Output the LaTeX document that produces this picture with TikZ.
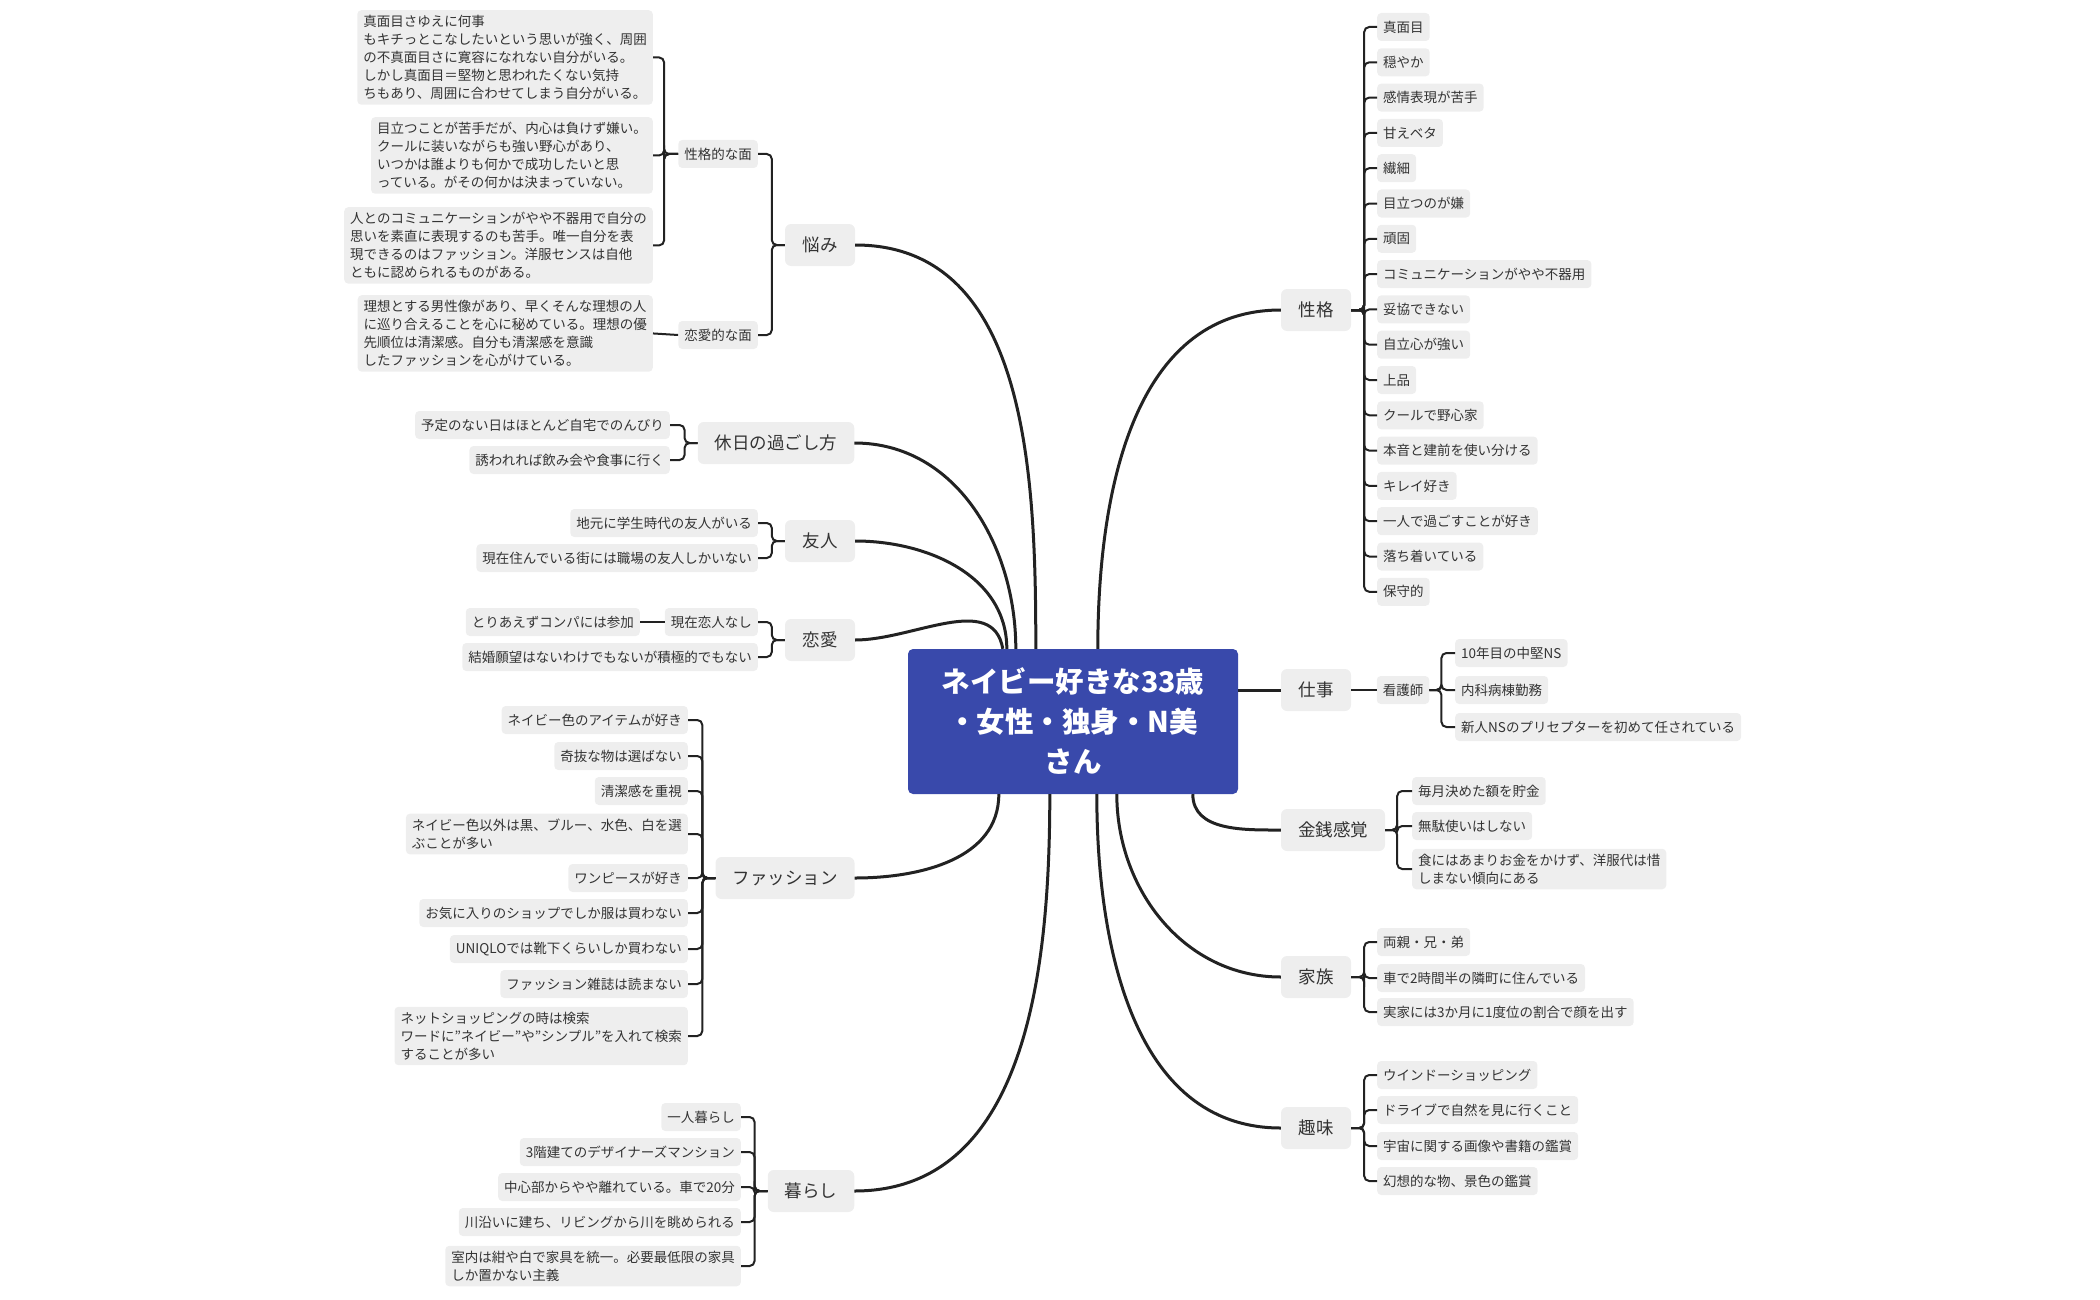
\documentclass[tikz,border=0pt]{standalone}
\usepackage{fontspec}
\setmainfont{Noto Sans CJK JP}
\usetikzlibrary{calc}
\definecolor{boxg}{HTML}{EEEEEE}
\definecolor{txt}{HTML}{333333}
\definecolor{navy}{HTML}{3949AB}
\definecolor{ln}{HTML}{222222}
\begin{document}
\begin{tikzpicture}[x=1pt,y=-1pt,
 leaf/.style={fill=boxg,rounded corners=4pt,text=txt,font=\fontsize{13.5}{18}\selectfont,align=left,inner xsep=6pt,inner ysep=5pt,minimum height=28pt},
 main/.style={fill=boxg,rounded corners=6pt,text=txt,font=\fontsize{17.5}{22}\selectfont,inner xsep=17pt,minimum height=42pt,minimum width=70pt},
 cen/.style={fill=navy,rounded corners=5pt,text=white,font=\fontsize{28.5}{40}\selectfont\bfseries,align=center,minimum width=330pt,minimum height=145pt},
 br/.style={draw=ln,line width=2pt,rounded corners=5pt},
 con/.style={draw=ln,line width=3pt}]
\useasboundingbox (0,0) rectangle (2100,1300);
\node[cen] (c) at (1073,721.5) {ネイビー好きな33歳\\・女性・独身・N美\\さん};
% ---- left: 悩み
\node[main] (nayami) at (820,245) {悩み};
\node[leaf,anchor=east] (seik) at (758,154) {性格的な面};
\node[leaf,anchor=east] (renk) at (758,335) {恋愛的な面};
\node[leaf,anchor=north east] (n1) at (653,10) {真面目さゆえに何事\\もキチっとこなしたいという思いが強く、周囲\\の不真面目さに寛容になれない自分がいる。\\しかし真面目＝堅物と思われたくない気持\\ちもあり、周囲に合わせてしまう自分がいる。};
\node[leaf,anchor=north east] (n2) at (653,117) {目立つことが苦手だが、内心は負けず嫌い。\\クールに装いながらも強い野心があり、\\いつかは誰よりも何かで成功したいと思\\っている。がその何かは決まっていない。};
\node[leaf,anchor=north east] (n3) at (653,207) {人とのコミュニケーションがやや不器用で自分の\\思いを素直に表現するのも苦手。唯一自分を表\\現できるのはファッション。洋服センスは自他\\ともに認められるものがある。};
\node[leaf,anchor=north east] (n4) at (653,295) {理想とする男性像があり、早くそんな理想の人\\に巡り合えることを心に秘めている。理想の優\\先順位は清潔感。自分も清潔感を意識\\したファッションを心がけている。};
\foreach \ch in {seik,renk} \draw[br] (nayami.west) -- ++(-13,0) |- (\ch.east);
\foreach \ch in {n1,n2,n3} \draw[br] (seik.west) -- ++(-14,0) |- (\ch.east);
\draw[br] (renk.west) -- (n4.east);
% ---- 休日
\node[main] (kyuj) at (776,443) {休日の過ごし方};
\node[leaf,anchor=east] (k1) at (670,425) {予定のない日はほとんど自宅でのんびり};
\node[leaf,anchor=east] (k2) at (670,460) {誘われれば飲み会や食事に行く};
\foreach \ch in {k1,k2} \draw[br] (kyuj.west) -- ++(-13,0) |- (\ch.east);
% ---- 友人
\node[main] (yuj) at (820,541) {友人};
\node[leaf,anchor=east] (y1) at (758,523) {地元に学生時代の友人がいる};
\node[leaf,anchor=east] (y2) at (758,558) {現在住んでいる街には職場の友人しかいない};
\foreach \ch in {y1,y2} \draw[br] (yuj.west) -- ++(-13,0) |- (\ch.east);
% ---- 恋愛
\node[main] (ren) at (820,640) {恋愛};
\node[leaf,anchor=east] (r1) at (758,622) {現在恋人なし};
\node[leaf,anchor=east] (r1a) at (640,622) {とりあえずコンパには参加};
\node[leaf,anchor=east] (r2) at (758,657) {結婚願望はないわけでもないが積極的でもない};
\foreach \ch in {r1,r2} \draw[br] (ren.west) -- ++(-13,0) |- (\ch.east);
\draw[br] (r1.west) -- (r1a.east);
% ---- ファッション
\node[main] (fas) at (785,878) {ファッション};
\node[leaf,anchor=east] (f1) at (688,720) {ネイビー色のアイテムが好き};
\node[leaf,anchor=east] (f2) at (688,756) {奇抜な物は選ばない};
\node[leaf,anchor=east] (f3) at (688,791) {清潔感を重視};
\node[leaf,anchor=east] (f4) at (688,834) {ネイビー色以外は黒、ブルー、水色、白を選\\ぶことが多い};
\node[leaf,anchor=east] (f5) at (688,878) {ワンピースが好き};
\node[leaf,anchor=east] (f6) at (688,913) {お気に入りのショップでしか服は買わない};
\node[leaf,anchor=east] (f7) at (688,949) {UNIQLOでは靴下くらいしか買わない};
\node[leaf,anchor=east] (f8) at (688,984) {ファッション雑誌は読まない};
\node[leaf,anchor=east] (f9) at (688,1036) {ネットショッピングの時は検索\\ワードに"ネイビー"や"シンプル"を入れて検索\\することが多い};
\foreach \ch in {f1,f2,f3,f4,f5,f6,f7,f8,f9} \draw[br] (fas.west) -- ++(-13,0) |- (\ch.east);
% ---- 暮らし
\node[main] (kur) at (811,1191) {暮らし};
\node[leaf,anchor=east] (u1) at (741,1117) {一人暮らし};
\node[leaf,anchor=east] (u2) at (741,1152) {3階建てのデザイナーズマンション};
\node[leaf,anchor=east] (u3) at (741,1187) {中心部からやや離れている。車で20分};
\node[leaf,anchor=east] (u4) at (741,1222) {川沿いに建ち、リビングから川を眺められる};
\node[leaf,anchor=east] (u5) at (741,1266) {室内は紺や白で家具を統一。必要最低限の家具\\しか置かない主義};
\foreach \ch in {u1,u2,u3,u4,u5} \draw[br] (kur.west) -- ++(-13,0) |- (\ch.east);
% ---- right: 性格
\node[main] (sei) at (1316,310) {性格};
\foreach \t [count=\i from 0] in {真面目,穏やか,感情表現が苦手,甘えベタ,繊細,目立つのが嫌,頑固,コミュニケーションがやや不器用,妥協できない,自立心が強い,上品,クールで野心家,本音と建前を使い分ける,キレイ好き,一人で過ごすことが好き,落ち着いている,保守的}{
 \node[leaf,anchor=west] (s\i) at (1377,27+35.3*\i) {\t};
 \draw[br] (sei.east) -- ++(13,0) |- (s\i.west);
}
% ---- 仕事
\node[main] (shi) at (1316,690) {仕事};
\node[leaf] (kan) at (1403,690) {看護師};
\node[leaf,anchor=west] (w1) at (1455,653) {10年目の中堅NS};
\node[leaf,anchor=west] (w2) at (1455,690) {内科病棟勤務};
\node[leaf,anchor=west] (w3) at (1455,727) {新人NSのプリセプターを初めて任されている};
\draw[br] (shi.east) -- (kan.west);
\foreach \ch in {w1,w2,w3} \draw[br] (kan.east) -- ++(12,0) |- (\ch.west);
% ---- 金銭感覚
\node[main] (kin) at (1333,830) {金銭感覚};
\node[leaf,anchor=west] (m1) at (1412,791) {毎月決めた額を貯金};
\node[leaf,anchor=west] (m2) at (1412,826) {無駄使いはしない};
\node[leaf,anchor=west] (m3) at (1412,869) {食にはあまりお金をかけず、洋服代は惜\\しまない傾向にある};
\foreach \ch in {m1,m2,m3} \draw[br] (kin.east) -- ++(12,0) |- (\ch.west);
% ---- 家族
\node[main] (kaz) at (1316,977) {家族};
\node[leaf,anchor=west] (z1) at (1377,942) {両親・兄・弟};
\node[leaf,anchor=west] (z2) at (1377,978) {車で2時間半の隣町に住んでいる};
\node[leaf,anchor=west] (z3) at (1377,1012) {実家には3か月に1度位の割合で顔を出す};
\foreach \ch in {z1,z2,z3} \draw[br] (kaz.east) -- ++(13,0) |- (\ch.west);
% ---- 趣味
\node[main] (shu) at (1316,1128) {趣味};
\node[leaf,anchor=west] (h1) at (1377,1075) {ウインドーショッピング};
\node[leaf,anchor=west] (h2) at (1377,1110) {ドライブで自然を見に行くこと};
\node[leaf,anchor=west] (h3) at (1377,1146) {宇宙に関する画像や書籍の鑑賞};
\node[leaf,anchor=west] (h4) at (1377,1181) {幻想的な物、景色の鑑賞};
\foreach \ch in {h1,h2,h3,h4} \draw[br] (shu.east) -- ++(13,0) |- (\ch.west);
% ---- main connectors
\coordinate (cA) at ($(c.north west)+(128,0)$);
\coordinate (cB) at ($(c.north west)+(108,0)$);
\coordinate (cC) at ($(c.north west)+(99,0)$);
\coordinate (cD) at ($(c.north west)+(95,0)$);
\coordinate (cE) at ($(c.south west)+(91,0)$);
\coordinate (cF) at ($(c.south west)+(142,0)$);
\coordinate (cG) at ($(c.north west)+(190,0)$);
\coordinate (cH) at ($(c.south west)+(285,0)$);
\coordinate (cI) at ($(c.south west)+(209,0)$);
\coordinate (cJ) at ($(c.south west)+(189,0)$);
\draw[con] (nayami.east) to[out=0,in=90] (cA);
\draw[con] (kyuj.east) to[out=0,in=90] (cB);
\draw[con] (yuj.east) to[out=0,in=90] (cC);
\draw[con] (ren.east) to[out=0,in=100] (cD);
\draw[con] (fas.east) to[out=0,in=-90] (cE);
\draw[con] (kur.east) to[out=0,in=-90] (cF);
\draw[con] (sei.west) to[out=180,in=90] (cG);
\draw[con] (shi.west) -- (shi.west -| c.east);
\draw[con] (kin.west) to[out=180,in=-90] (cH);
\draw[con] (kaz.west) to[out=180,in=-90] (cI);
\draw[con] (shu.west) to[out=180,in=-90] (cJ);
\end{tikzpicture}
\end{document}
